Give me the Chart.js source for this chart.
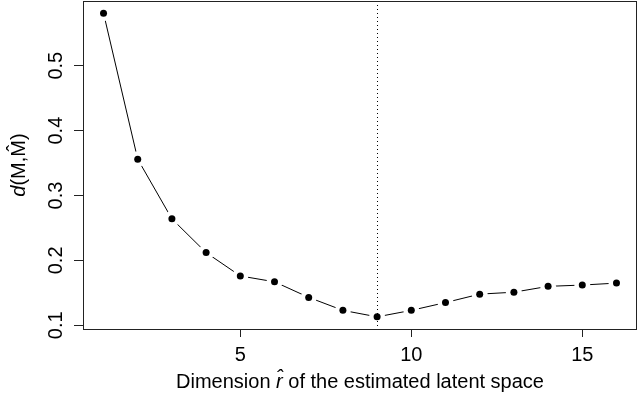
<!DOCTYPE html>
<html>
<head>
<meta charset="utf-8">
<script src="https://cdn.jsdelivr.net/npm/chart.js@4"></script>
<style>
  html, body { margin: 0; padding: 0; background: #fff; }
</style>
</head>
<body>
<canvas id="chart" width="640" height="397"></canvas>
<script>
// values
const dims = [1, 2, 3, 4, 5, 6, 7, 8, 9, 10, 11, 12, 13, 14, 15, 16];
const distances = [0.581, 0.356, 0.264, 0.212, 0.176, 0.167, 0.143, 0.123,
                   0.113, 0.123, 0.135, 0.148, 0.151, 0.160, 0.162, 0.165];
const xTicks = [5, 10, 15];
const yTicks = [0.1, 0.2, 0.3, 0.4, 0.5];
const chosenDim = 9;

const FONT = '"Liberation Sans", Arial, Helvetica, sans-serif';
const FONT_SIZE = 20;

// R style axis range: data range stretched by 4% on each side
function rRange(vals) {
  const lo = Math.min(...vals), hi = Math.max(...vals);
  const pad = (hi - lo) * 0.04;
  return [lo - pad, hi + pad];
}
const [xMin, xMax] = rRange(dims);
const [yMin, yMax] = rRange(distances);

const points = dims.map((d, i) => ({ x: d, y: distances[i] }));

// draws text made of pieces, some of them italic
function richText(ctx, parts, cx, cy, rotate) {
  ctx.save();
  ctx.translate(cx, cy);
  if (rotate) ctx.rotate(-Math.PI / 2);
  ctx.textBaseline = 'middle';
  ctx.textAlign = 'left';
  ctx.fillStyle = '#000';
  let total = 0;
  parts.forEach(p => {
    ctx.font = (p.italic ? 'italic ' : '') + FONT_SIZE + 'px ' + FONT;
    p.w = ctx.measureText(p.text).width;
    total += p.w;
  });
  let x = -total / 2;
  parts.forEach(p => {
    ctx.font = (p.italic ? 'italic ' : '') + FONT_SIZE + 'px ' + FONT;
    ctx.fillText(p.text, x, 0);
    x += p.w;
  });
  ctx.restore();
}

const framePlugin = {
  id: 'frame',
  afterDatasetsDraw(chart) {
    const { ctx, chartArea: a, scales } = chart;
    ctx.save();
    // dotted line at the chosen dimension
    const vx = Math.round(scales.x.getPixelForValue(chosenDim)) + 0.5;
    ctx.strokeStyle = '#000';
    ctx.lineWidth = 1;
    ctx.setLineDash([1, 3]);
    ctx.beginPath();
    ctx.moveTo(vx, a.top);
    ctx.lineTo(vx, a.bottom);
    ctx.stroke();
    // box around the plot
    ctx.setLineDash([]);
    ctx.strokeStyle = '#222';
    ctx.strokeRect(Math.round(a.left) + 0.5, Math.round(a.top) + 0.5,
                   Math.round(a.right - a.left) - 1, Math.round(a.bottom - a.top));

    // tick labels, R style (y labels turned parallel to the axis)
    ctx.fillStyle = '#000';
    ctx.font = FONT_SIZE + 'px ' + FONT;
    ctx.textAlign = 'center';
    ctx.textBaseline = 'middle';
    xTicks.forEach(v => {
      ctx.fillText(String(v), scales.x.getPixelForValue(v), 355);
    });
    yTicks.forEach(v => {
      ctx.save();
      ctx.translate(56, scales.y.getPixelForValue(v));
      ctx.rotate(-Math.PI / 2);
      ctx.fillText(v.toFixed(1), 0, 0);
      ctx.restore();
    });
    ctx.restore();

    // axis titles
    richText(ctx, [
      { text: 'Dimension ' },
      { text: 'r\u0302', italic: true },
      { text: ' of the estimated latent space' }
    ], (a.left + a.right) / 2, 382, false);
    richText(ctx, [
      { text: 'd', italic: true },
      { text: '(M,M\u0302)' }
    ], 19, (a.top + a.bottom) / 2, true);
  }
};

new Chart(document.getElementById('chart'), {
  type: 'line',
  data: {
    datasets: [
      {
        // black points, drawn on top
        data: points,
        showLine: false,
        pointRadius: 3.5,
        pointBackgroundColor: '#000',
        pointBorderColor: '#000',
        pointBorderWidth: 0
      },
      {
        // line with white discs so it stops short of each point
        data: points,
        borderColor: '#000',
        borderWidth: 1,
        pointRadius: 8,
        pointBackgroundColor: '#fff',
        pointBorderWidth: 0,
        pointBorderColor: '#fff',
        tension: 0
      }
    ]
  },
  options: {
    responsive: false,
    animation: false,
    devicePixelRatio: 1,
    layout: { autoPadding: false, padding: { top: 1, right: 3, left: 0, bottom: 0 } },
    plugins: {
      legend: { display: false },
      tooltip: { enabled: false }
    },
    scales: {
      x: {
        type: 'linear',
        min: xMin,
        max: xMax,
        afterBuildTicks: s => { s.ticks = xTicks.map(v => ({ value: v })); },
        afterFit: s => { s.height = 68; },
        border: { display: false },
        grid: { drawOnChartArea: false, drawTicks: true, tickLength: 8, tickColor: '#222' },
        ticks: { display: false }
      },
      y: {
        type: 'linear',
        min: yMin,
        max: yMax,
        afterBuildTicks: s => { s.ticks = yTicks.map(v => ({ value: v })); },
        afterFit: s => { s.width = 83; },
        border: { display: false },
        grid: { drawOnChartArea: false, drawTicks: true, tickLength: 9, tickColor: '#222' },
        ticks: { display: false }
      }
    }
  },
  plugins: [framePlugin]
});
</script>
</body>
</html>
